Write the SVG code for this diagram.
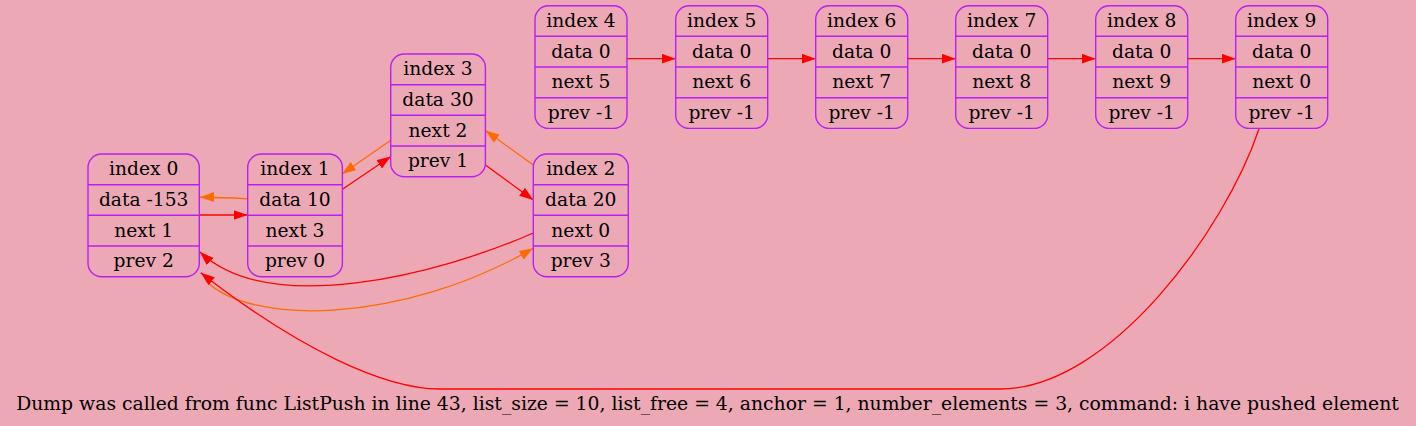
<svg xmlns="http://www.w3.org/2000/svg" width="1416" height="426" viewBox="0 0 1416 426">
<style>
.bg{fill:#eda8b5}
.box{fill:none;stroke:#b81ef5;stroke-width:1.4}
.sep{stroke:#b81ef5;stroke-width:1.4}
.t{font-family:"DejaVu Serif",serif;font-size:18.67px;fill:#000;text-anchor:middle}
.f{font-size:18.8px}
.r{fill:none;stroke:#ff0000;stroke-width:1.3}
.o{fill:none;stroke:#ff6a00;stroke-width:1.3}
</style>
<defs>
<marker id="ar" markerUnits="userSpaceOnUse" viewBox="0 0 14 10" refX="14" refY="5" markerWidth="14" markerHeight="10" orient="auto"><path d="M0,0 L14,5 L0,10 z" fill="#ff0000"/></marker>
<marker id="ao" markerUnits="userSpaceOnUse" viewBox="0 0 14 10" refX="14" refY="5" markerWidth="14" markerHeight="10" orient="auto"><path d="M0,0 L14,5 L0,10 z" fill="#ff6a00"/></marker>
</defs>
<rect class="bg" x="0" y="0" width="1416" height="426"/>

<g id="connectors">
<path class="r" d="M200,215 L247.5,215" marker-end="url(#ar)"/>
<path class="o" d="M247.5,198.8 C233,198 215,197 200,197.3" marker-end="url(#ao)"/>
<path class="r" d="M342.8,189 L390.8,156.5" marker-end="url(#ar)"/>
<path class="o" d="M390.5,140.5 L342,174" marker-end="url(#ao)"/>
<path class="o" d="M533.3,165 L485.5,130.5" marker-end="url(#ao)"/>
<path class="r" d="M485.5,165 L533.3,200" marker-end="url(#ar)"/>
<path class="r" d="M533.3,233 C440,274 270,318 200,252" marker-end="url(#ar)"/>
<path class="o" d="M206,281 C250,325 400,325 533.3,248.3" marker-end="url(#ao)"/>
<path class="r" d="M1259,129 C1225,230 1110,389 1000,389 L440,389 C385,389 300,350 200.7,272.7" marker-end="url(#ar)"/>
<path class="r" d="M627,58.7 L675.7,58.7" marker-end="url(#ar)"/>
<path class="r" d="M767.7,58.7 L815.7,58.7" marker-end="url(#ar)"/>
<path class="r" d="M907.7,58.7 L955.7,58.7" marker-end="url(#ar)"/>
<path class="r" d="M1047.7,58.7 L1095.7,58.7" marker-end="url(#ar)"/>
<path class="r" d="M1187.7,58.7 L1235.7,58.7" marker-end="url(#ar)"/>
</g>

<g id="node0">
<rect class="box" x="88" y="154" width="111.3" height="122.7" rx="13.5"/>
<line class="sep" x1="88" y1="184.7" x2="199.3" y2="184.7"/>
<line class="sep" x1="88" y1="215.3" x2="199.3" y2="215.3"/>
<line class="sep" x1="88" y1="246" x2="199.3" y2="246"/>
<text class="t" x="143.7" y="175.3">index 0</text>
<text class="t" x="143.7" y="206">data -153</text>
<text class="t" x="143.7" y="236.7">next 1</text>
<text class="t" x="143.7" y="267.3">prev 2</text>
</g>

<g id="node1">
<rect class="box" x="247.7" y="154" width="94.7" height="122.7" rx="13.5"/>
<line class="sep" x1="247.7" y1="184.7" x2="342.4" y2="184.7"/>
<line class="sep" x1="247.7" y1="215.3" x2="342.4" y2="215.3"/>
<line class="sep" x1="247.7" y1="246" x2="342.4" y2="246"/>
<text class="t" x="295" y="175.3">index 1</text>
<text class="t" x="295" y="206">data 10</text>
<text class="t" x="295" y="236.7">next 3</text>
<text class="t" x="295" y="267.3">prev 0</text>
</g>

<g id="node3">
<rect class="box" x="390.7" y="54" width="94.7" height="122.7" rx="13.5"/>
<line class="sep" x1="390.7" y1="84.7" x2="485.4" y2="84.7"/>
<line class="sep" x1="390.7" y1="115.3" x2="485.4" y2="115.3"/>
<line class="sep" x1="390.7" y1="146" x2="485.4" y2="146"/>
<text class="t" x="438" y="75.3">index 3</text>
<text class="t" x="438" y="106">data 30</text>
<text class="t" x="438" y="136.7">next 2</text>
<text class="t" x="438" y="167.3">prev 1</text>
</g>

<g id="node2">
<rect class="box" x="533.3" y="154" width="95" height="122.7" rx="13.5"/>
<line class="sep" x1="533.3" y1="184.7" x2="628.3" y2="184.7"/>
<line class="sep" x1="533.3" y1="215.3" x2="628.3" y2="215.3"/>
<line class="sep" x1="533.3" y1="246" x2="628.3" y2="246"/>
<text class="t" x="580.8" y="175.3">index 2</text>
<text class="t" x="580.8" y="206">data 20</text>
<text class="t" x="580.8" y="236.7">next 0</text>
<text class="t" x="580.8" y="267.3">prev 3</text>
</g>

<g id="node4">
<rect class="box" x="535" y="5.7" width="92" height="122.7" rx="13.5"/>
<line class="sep" x1="535" y1="36.3" x2="627" y2="36.3"/>
<line class="sep" x1="535" y1="67" x2="627" y2="67"/>
<line class="sep" x1="535" y1="97.7" x2="627" y2="97.7"/>
<text class="t" x="581" y="27">index 4</text>
<text class="t" x="581" y="57.7">data 0</text>
<text class="t" x="581" y="88.3">next 5</text>
<text class="t" x="581" y="119">prev -1</text>
</g>

<g id="node5">
<rect class="box" x="675.7" y="5.7" width="92" height="122.7" rx="13.5"/>
<line class="sep" x1="675.7" y1="36.3" x2="767.7" y2="36.3"/>
<line class="sep" x1="675.7" y1="67" x2="767.7" y2="67"/>
<line class="sep" x1="675.7" y1="97.7" x2="767.7" y2="97.7"/>
<text class="t" x="721.7" y="27">index 5</text>
<text class="t" x="721.7" y="57.7">data 0</text>
<text class="t" x="721.7" y="88.3">next 6</text>
<text class="t" x="721.7" y="119">prev -1</text>
</g>

<g id="node6">
<rect class="box" x="815.7" y="5.7" width="92" height="122.7" rx="13.5"/>
<line class="sep" x1="815.7" y1="36.3" x2="907.7" y2="36.3"/>
<line class="sep" x1="815.7" y1="67" x2="907.7" y2="67"/>
<line class="sep" x1="815.7" y1="97.7" x2="907.7" y2="97.7"/>
<text class="t" x="861.7" y="27">index 6</text>
<text class="t" x="861.7" y="57.7">data 0</text>
<text class="t" x="861.7" y="88.3">next 7</text>
<text class="t" x="861.7" y="119">prev -1</text>
</g>

<g id="node7">
<rect class="box" x="955.7" y="5.7" width="92" height="122.7" rx="13.5"/>
<line class="sep" x1="955.7" y1="36.3" x2="1047.7" y2="36.3"/>
<line class="sep" x1="955.7" y1="67" x2="1047.7" y2="67"/>
<line class="sep" x1="955.7" y1="97.7" x2="1047.7" y2="97.7"/>
<text class="t" x="1001.7" y="27">index 7</text>
<text class="t" x="1001.7" y="57.7">data 0</text>
<text class="t" x="1001.7" y="88.3">next 8</text>
<text class="t" x="1001.7" y="119">prev -1</text>
</g>

<g id="node8">
<rect class="box" x="1095.7" y="5.7" width="92" height="122.7" rx="13.5"/>
<line class="sep" x1="1095.7" y1="36.3" x2="1187.7" y2="36.3"/>
<line class="sep" x1="1095.7" y1="67" x2="1187.7" y2="67"/>
<line class="sep" x1="1095.7" y1="97.7" x2="1187.7" y2="97.7"/>
<text class="t" x="1141.7" y="27">index 8</text>
<text class="t" x="1141.7" y="57.7">data 0</text>
<text class="t" x="1141.7" y="88.3">next 9</text>
<text class="t" x="1141.7" y="119">prev -1</text>
</g>

<g id="node9">
<rect class="box" x="1235.7" y="5.7" width="92" height="122.7" rx="13.5"/>
<line class="sep" x1="1235.7" y1="36.3" x2="1327.7" y2="36.3"/>
<line class="sep" x1="1235.7" y1="67" x2="1327.7" y2="67"/>
<line class="sep" x1="1235.7" y1="97.7" x2="1327.7" y2="97.7"/>
<text class="t" x="1281.7" y="27">index 9</text>
<text class="t" x="1281.7" y="57.7">data 0</text>
<text class="t" x="1281.7" y="88.3">next 0</text>
<text class="t" x="1281.7" y="119">prev -1</text>
</g>

<text class="t f" x="707.5" y="409.5">Dump was called from func ListPush in line 43, list_size = 10, list_free = 4, anchor = 1, number_elements = 3, command: i have pushed element</text>
</svg>
